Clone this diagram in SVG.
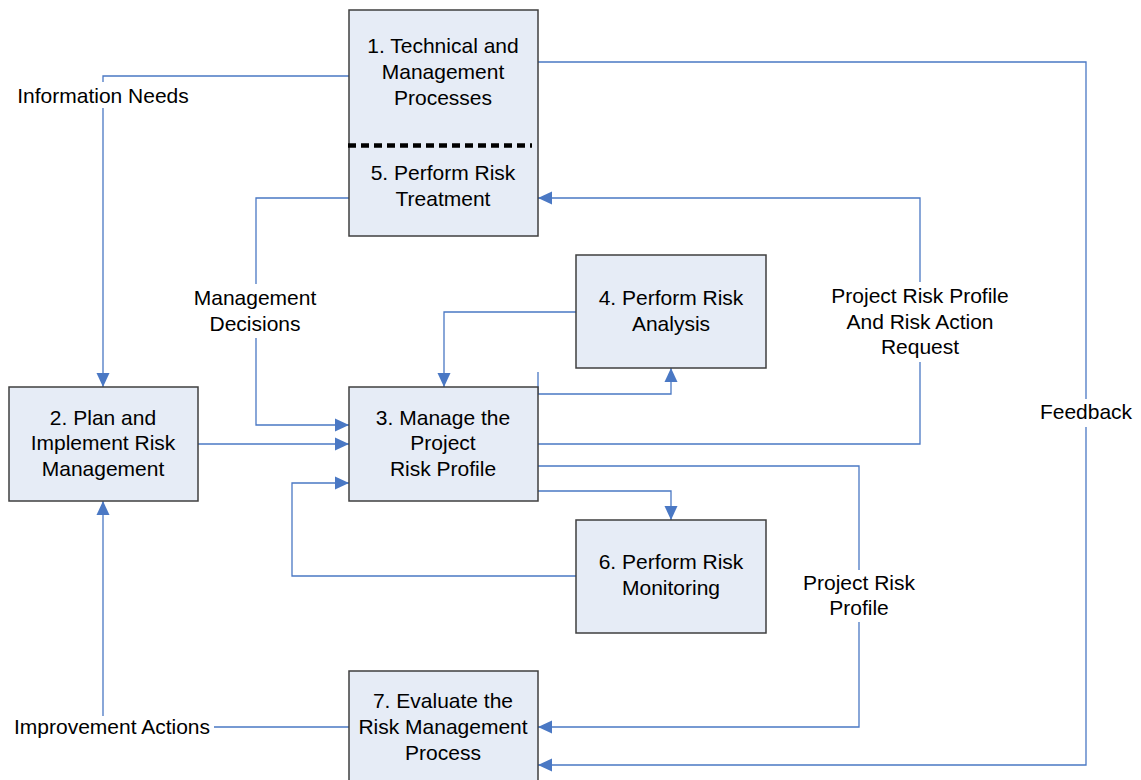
<svg xmlns="http://www.w3.org/2000/svg" width="1141" height="780" viewBox="0 0 1141 780">
  <style>
    .box { fill: #E6ECF6; stroke: #3F3F3F; stroke-width: 1.5; }
    .wire { fill: none; stroke: #4A78C4; stroke-width: 1.3; }
    .txt { font-family: "Liberation Sans", Arial, sans-serif; font-size: 21px; fill: #000; text-anchor: middle; }
    .bg { fill: #FFFFFF; }
  </style>
  <defs>
    <marker id="arr" markerUnits="userSpaceOnUse" markerWidth="16" markerHeight="16" viewBox="0 0 16 16" refX="14" refY="8" orient="auto">
      <path d="M0,1.5 L14,8 L0,14.5 Z" fill="#4A78C4"/>
    </marker>
  </defs>
  <rect width="1141" height="780" fill="#FFFFFF"/>

  <!-- connectors -->
  <g id="connectors">
    <path class="wire" d="M349,76 H103 V387" marker-end="url(#arr)"/>
    <path class="wire" d="M538,62 H1086 V765 H538" marker-end="url(#arr)"/>
    <path class="wire" d="M349,198 H256 V425 H349" marker-end="url(#arr)"/>
    <path class="wire" d="M198,444 H349" marker-end="url(#arr)"/>
    <path class="wire" d="M538,444 H920 V198 H538" marker-end="url(#arr)"/>
    <path class="wire" d="M576,312 H444 V387" marker-end="url(#arr)"/>
    <path class="wire" d="M538,372 V394 H671 V368" marker-end="url(#arr)"/>
    <path class="wire" d="M538,466 H859 V727 H538" marker-end="url(#arr)"/>
    <path class="wire" d="M538,491 H671 V520" marker-end="url(#arr)"/>
    <path class="wire" d="M576,576 H292 V483 H349" marker-end="url(#arr)"/>
    <path class="wire" d="M349,727 H103 V501" marker-end="url(#arr)"/>
  </g>

  <!-- connector labels -->
  <g id="labels">
    <rect class="bg" x="14" y="82" width="178" height="26"/>
    <text class="txt" x="103" y="103">Information Needs</text>
    <rect class="bg" x="190" y="284" width="130" height="54"/>
    <text class="txt" x="255" y="305">Management</text>
    <text class="txt" x="255" y="331">Decisions</text>
    <rect class="bg" x="828" y="282" width="184" height="80"/>
    <text class="txt" x="920" y="303">Project Risk Profile</text>
    <text class="txt" x="920" y="329">And Risk Action</text>
    <text class="txt" x="920" y="354">Request</text>
    <rect class="bg" x="1038" y="399" width="98" height="28"/>
    <text class="txt" x="1086" y="419">Feedback</text>
    <rect class="bg" x="800" y="570" width="118" height="52"/>
    <text class="txt" x="859" y="590">Project Risk</text>
    <text class="txt" x="859" y="615">Profile</text>
    <rect class="bg" x="10" y="716" width="204" height="26"/>
    <text class="txt" x="112" y="734">Improvement Actions</text>
  </g>

  <!-- process boxes -->
  <g id="node1-5">
    <rect class="box" x="349" y="10" width="189" height="226"/>
    <text class="txt" x="443" y="53">1. Technical and</text>
    <text class="txt" x="443" y="79">Management</text>
    <text class="txt" x="443" y="105">Processes</text>
    <line x1="348" y1="145.5" x2="532" y2="145.5" stroke="#000" stroke-width="4.5" stroke-dasharray="8,5"/>
    <text class="txt" x="443" y="180">5. Perform Risk</text>
    <text class="txt" x="443" y="206">Treatment</text>
  </g>
  <g id="node2">
    <rect class="box" x="9" y="387" width="189" height="114"/>
    <text class="txt" x="103" y="425">2. Plan and</text>
    <text class="txt" x="103" y="450">Implement Risk</text>
    <text class="txt" x="103" y="476">Management</text>
  </g>
  <g id="node3">
    <rect class="box" x="349" y="387" width="189" height="114"/>
    <text class="txt" x="443" y="425">3. Manage the</text>
    <text class="txt" x="443" y="450">Project</text>
    <text class="txt" x="443" y="476">Risk Profile</text>
  </g>
  <g id="node4">
    <rect class="box" x="576" y="255" width="190" height="113"/>
    <text class="txt" x="671" y="305">4. Perform Risk</text>
    <text class="txt" x="671" y="331">Analysis</text>
  </g>
  <g id="node6">
    <rect class="box" x="576" y="520" width="190" height="113"/>
    <text class="txt" x="671" y="569">6. Perform Risk</text>
    <text class="txt" x="671" y="595">Monitoring</text>
  </g>
  <g id="node7">
    <rect class="box" x="349" y="671" width="189" height="130"/>
    <text class="txt" x="443" y="708">7. Evaluate the</text>
    <text class="txt" x="443" y="734">Risk Management</text>
    <text class="txt" x="443" y="760">Process</text>
  </g>
</svg>
